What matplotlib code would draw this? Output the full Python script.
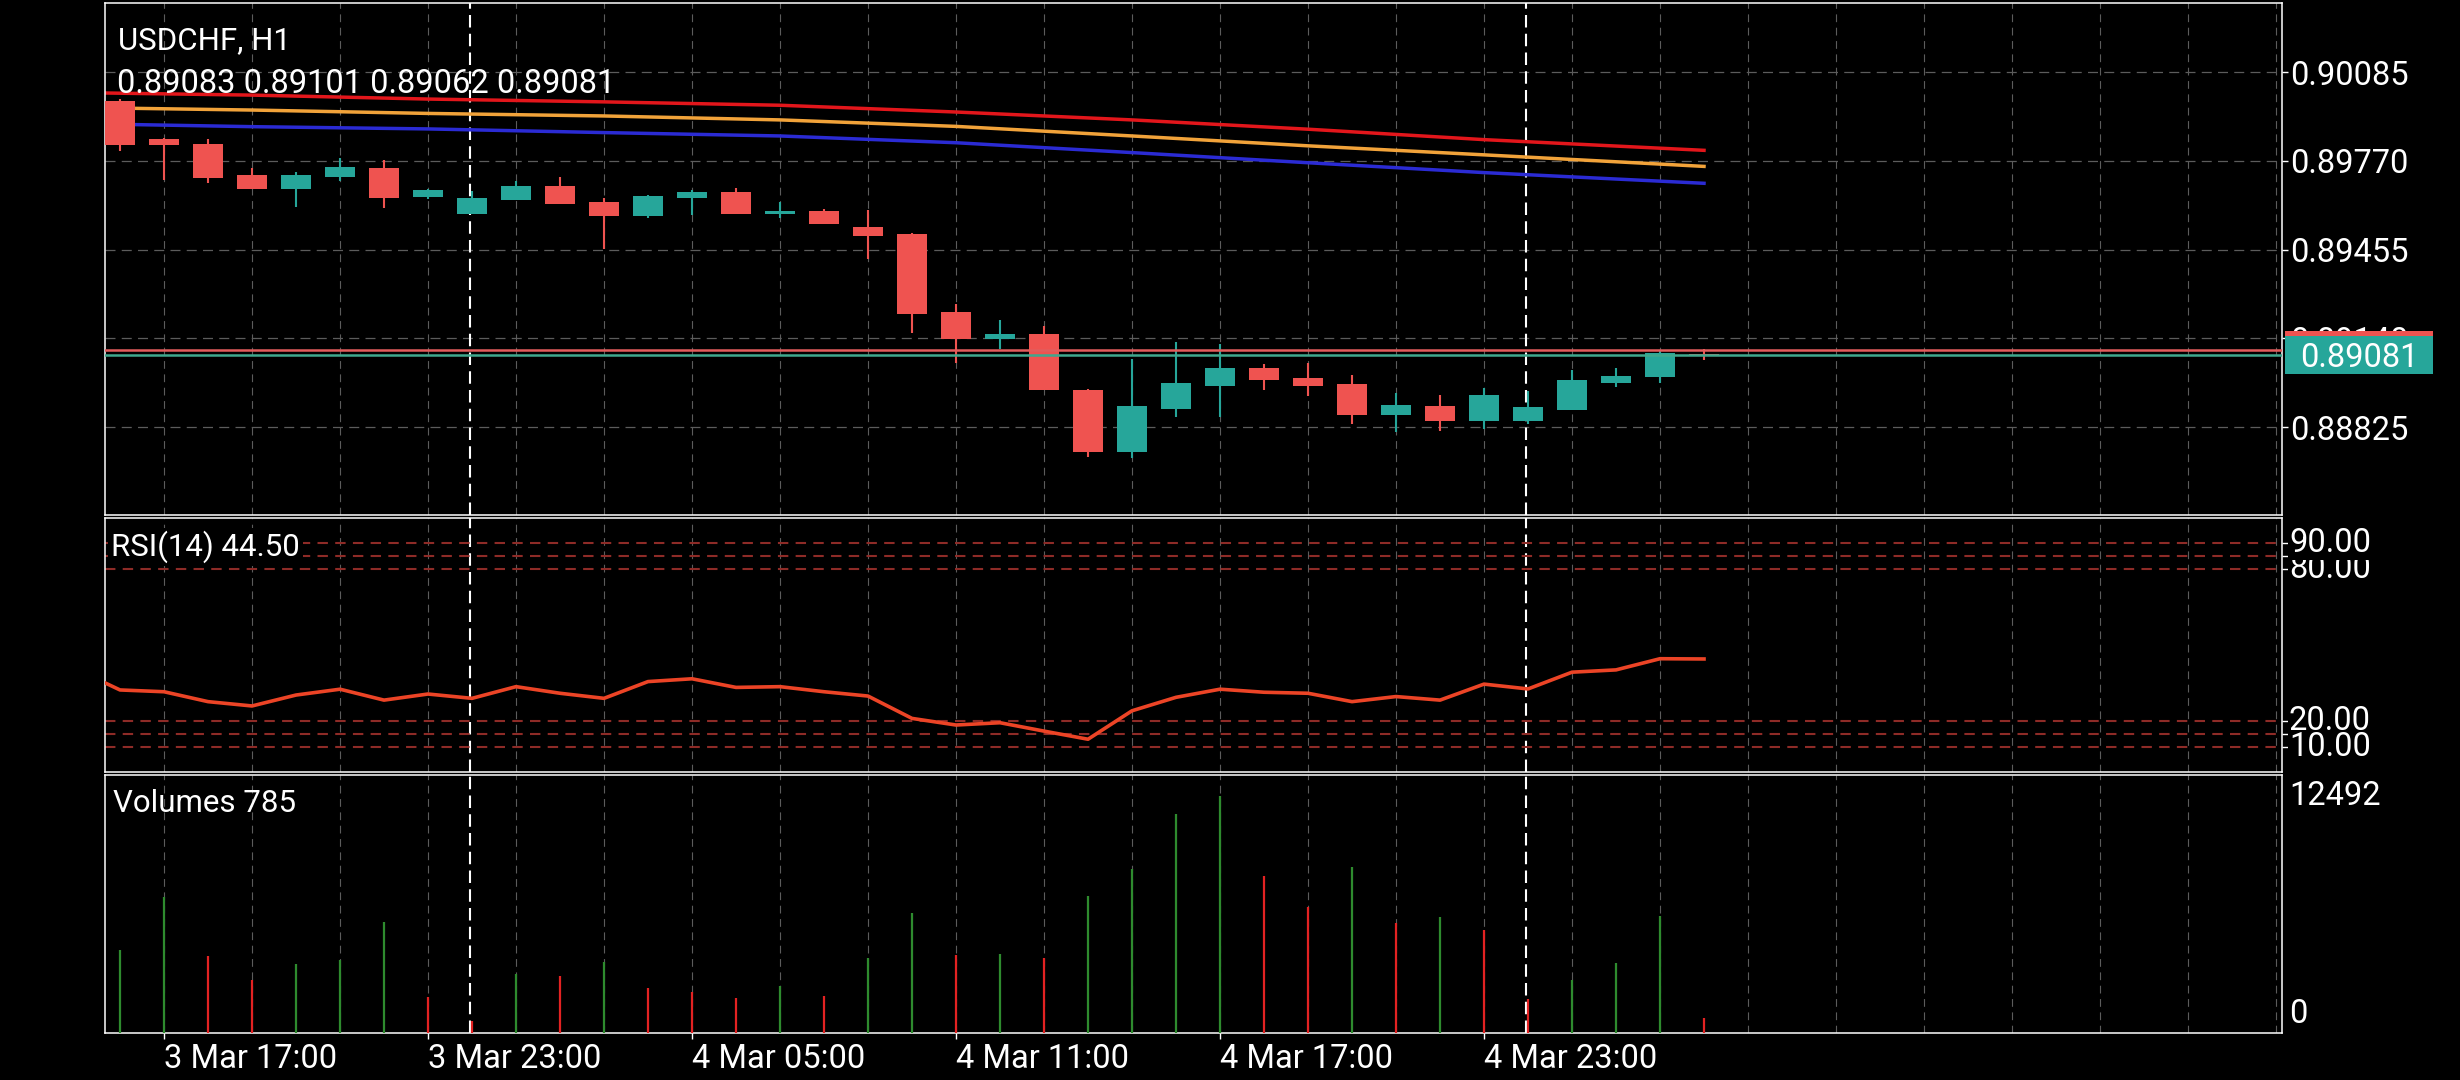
import matplotlib.pyplot as plt
import matplotlib.transforms as mtransforms
from matplotlib.patches import Rectangle
import numpy as np

plt.rcParams['font.family'] = ['Roboto', 'DejaVu Sans']

# ---- data (bar index 0 = 3 Mar 16:00, H1) ----
symbol = "USDCHF, H1"
time_labels = ["3 Mar 17:00", "3 Mar 23:00", "4 Mar 05:00", "4 Mar 11:00", "4 Mar 17:00", "4 Mar 23:00"]
label_bars = [1, 7, 13, 19, 25, 31]
day_breaks = [7.95, 31.95]

opens = [0.89982, 0.89847, 0.89830, 0.89718, 0.89671, 0.89713, 0.89744, 0.89642, 0.89582, 0.89632,
         0.89680, 0.89624, 0.89575, 0.89639, 0.89659, 0.89582, 0.89592, 0.89535, 0.89510, 0.89233,
         0.89139, 0.89155, 0.88956, 0.88737, 0.88890, 0.88972, 0.89035, 0.88999, 0.88978, 0.88869,
         0.88900, 0.88848, 0.88848, 0.88887, 0.88982, 0.89004, 0.89083]
highs = [0.89990, 0.89850, 0.89847, 0.89744, 0.89730, 0.89780, 0.89773, 0.89669, 0.89662, 0.89698,
         0.89713, 0.89638, 0.89648, 0.89666, 0.89673, 0.89624, 0.89599, 0.89595, 0.89512, 0.89262,
         0.89205, 0.89184, 0.88960, 0.89066, 0.89128, 0.89121, 0.89048, 0.89052, 0.89010, 0.88946,
         0.88939, 0.88964, 0.88954, 0.89029, 0.89036, 0.89094, 0.89101]
lows = [0.89806, 0.89702, 0.89692, 0.89668, 0.89607, 0.89699, 0.89603, 0.89633, 0.89580, 0.89630,
        0.89616, 0.89458, 0.89568, 0.89579, 0.89580, 0.89568, 0.89545, 0.89422, 0.89160, 0.89051,
        0.89101, 0.88955, 0.88720, 0.88716, 0.88861, 0.88861, 0.88958, 0.88935, 0.88837, 0.88808,
        0.88812, 0.88817, 0.88835, 0.88885, 0.88967, 0.88982, 0.89062]
closes = [0.89826, 0.89826, 0.89710, 0.89671, 0.89718, 0.89748, 0.89639, 0.89666, 0.89638, 0.89680,
          0.89618, 0.89575, 0.89645, 0.89659, 0.89582, 0.89592, 0.89547, 0.89504, 0.89227, 0.89139,
          0.89155, 0.88958, 0.88737, 0.88900, 0.88981, 0.89035, 0.88993, 0.88972, 0.88869, 0.88903,
          0.88848, 0.88939, 0.88896, 0.88992, 0.89006, 0.89088, 0.89081]
volumes = [4398, 7160, 4044, 2777, 3622, 3833, 5840, 1880, 612, 3131,
           3025, 3728, 2355, 2165, 1827, 2497, 1969, 3976, 6352, 4118,
           4150, 3939, 7212, 8659, 11579, 12492, 8268, 6653, 8744, 5787,
           6104, 5417, 1774, 2777, 3675, 6156, 785]
# RSI starts one bar left of the visible window
rsi_bars = list(range(-1, 37))
rsi = [40.5, 32.3, 31.6, 27.7, 26.0, 30.3, 32.6, 28.3, 30.7, 29.0,
       33.6, 31.0, 29.0, 35.6, 36.7, 33.3, 33.6, 31.6, 29.9, 21.1,
       18.5, 19.4, 16.1, 12.9, 24.1, 29.4, 32.6, 31.4, 31.0, 27.7,
       29.7, 28.3, 34.6, 32.7, 39.3, 40.2, 44.6, 44.5]
ma_bars = [-1, 3, 7, 11, 15, 19, 23, 27, 31, 36]
ma_red = [0.90012, 0.90003, 0.89989, 0.89979, 0.89967, 0.89943, 0.89915, 0.89882, 0.89845, 0.89807]
ma_orange = [0.89959, 0.89950, 0.89938, 0.89929, 0.89915, 0.89892, 0.89858, 0.89823, 0.89791, 0.89750]
ma_blue = [0.89902, 0.89891, 0.89883, 0.89870, 0.89858, 0.89834, 0.89799, 0.89763, 0.89728, 0.89690]

bid = 0.89081
ask = 0.89098
price_ticks = [0.90085, 0.89770, 0.89455, 0.89140, 0.88825]
rsi_levels = [90, 85, 80, 20, 15, 10]
rsi_labelled = [80, 90, 20, 10]
vol_top = 12492

UP = '#26a69a'
DOWN = '#ef5350'
GRID = '#5c5c5c'
FS = 22.5     # names
FN = 23.5     # numbers and dates

fig = plt.figure(figsize=(24.6, 10.8), dpi=100, facecolor='black')
W, H = 2460.0, 1080.0
L, R = 105, 2282


def add_panel(top, bottom):
    return fig.add_axes([L / W, 1 - bottom / H, (R - L) / W, (bottom - top) / H], facecolor='black')


ax = add_panel(3, 515.5)
ax_rsi = add_panel(518, 772)
ax_vol = add_panel(775, 1033)

n = len(opens)
x = np.arange(n)
xlim = (-0.341, 49.136)
odd_bars = np.arange(1, 50, 2)

for a in (ax, ax_rsi, ax_vol):
    a.set_xlim(*xlim)
    for s in a.spines.values():
        s.set_color('white')
        s.set_linewidth(1.1)
    a.yaxis.tick_right()
    a.tick_params(axis='y', colors='white', labelsize=FN, length=4, width=1, pad=2)
    a.tick_params(axis='x', colors='white', length=0)
    a.set_xticks([])
    for b in odd_bars:
        a.axvline(b, color=GRID, lw=0.8, ls=(0, (7, 5)), zorder=0.5)
    for b in day_breaks:
        a.axvline(b, color='white', lw=1.5, ls=(0, (6, 3)), zorder=1)

# ---- price panel ----
ax.set_ylim(0.885110, 0.903299)
ax.set_yticks(price_ticks)
ax.set_yticklabels([f"{p:.5f}" for p in price_ticks])
for p in price_ticks:
    ax.axhline(p, color=GRID, lw=0.9, ls=(0, (8, 5)), zorder=0.5)

ax.plot(ma_bars, ma_red, color='#e3161b', lw=2.5, zorder=2)
ax.plot(ma_bars, ma_orange, color='#f2a33a', lw=2.5, zorder=2)
ax.plot(ma_bars, ma_blue, color='#2b2bd4', lw=2.5, zorder=2)

colors = [UP if c >= o else DOWN for o, c in zip(opens, closes)]
ax.vlines(x, lows, highs, colors=colors, lw=1.5, zorder=3)
bottoms = [min(o, c) for o, c in zip(opens, closes)]
heights = [max(abs(c - o), 0.00004) for o, c in zip(opens, closes)]
ax.bar(x, heights, bottom=bottoms, width=0.68, color=colors, zorder=4)

ax.axhline(ask, color='#e35d5d', lw=1.8, zorder=5)
ax.axhline(bid, color='#3fa88e', lw=1.8, zorder=5)

blend = mtransforms.blended_transform_factory(ax.transAxes, ax.transData)
box_h = 0.001324
x0, x1 = 1.0014, 1.0694
ax.add_patch(Rectangle((x0, ask - box_h / 2), x1 - x0, box_h, transform=blend,
                       facecolor=DOWN, edgecolor='none', clip_on=False, zorder=10))
ax.add_patch(Rectangle((x0, bid - box_h / 2), x1 - x0, box_h, transform=blend,
                       facecolor=UP, edgecolor='none', clip_on=False, zorder=11))
ax.text((x0 + x1) / 2, bid, f"{closes[-1]:.5f}", transform=blend, color='white',
        fontsize=FN, ha='center', va='center_baseline', zorder=12, clip_on=False)

ax.annotate(symbol, xy=(0, 1), xycoords='axes fraction', xytext=(13, -46),
            textcoords='offset pixels', color='white', fontsize=FS, va='baseline', zorder=12)
ohlc_text = f"{opens[-1]:.5f} {highs[-1]:.5f} {lows[-1]:.5f} {closes[-1]:.5f}"
ax.annotate(ohlc_text, xy=(0, 1), xycoords='axes fraction', xytext=(12, -90),
            textcoords='offset pixels', color='white', fontsize=FN, va='baseline', zorder=12)

# ---- RSI panel ----
ax_rsi.set_ylim(0, 100)
ax_rsi.set_yticks(rsi_levels)
ax_rsi.set_yticklabels([''] * len(rsi_levels))
for lv in rsi_levels:
    ax_rsi.axhline(lv, color='#8e2b27', lw=1.5, ls=(0, (5, 3.5)), zorder=1)
ax_rsi.plot(rsi_bars, rsi, color='#ec4426', lw=2.6, zorder=3)
rblend = mtransforms.blended_transform_factory(ax_rsi.transAxes, ax_rsi.transData)
for k, lv in enumerate(rsi_labelled):
    ax_rsi.text(1.0032, lv, f"{lv:.2f}", transform=rblend, color='white', fontsize=FN,
                ha='left', va='center', clip_on=False, zorder=5 + k,
                bbox=dict(facecolor='black', edgecolor='none', pad=0.5))
ax_rsi.annotate(f"RSI(14) {rsi[-1]:.2f}", xy=(0, 1), xycoords='axes fraction', xytext=(6, -38),
                textcoords='offset pixels', color='white', fontsize=FS, va='baseline', zorder=6,
                bbox=dict(facecolor='black', edgecolor='none', pad=2))

# ---- volume panel ----
ax_vol.set_ylim(0, 13620)
vcolors = ['#2e8b2e' if i == 0 or volumes[i] >= volumes[i - 1] else '#e32222' for i in range(n)]
ax_vol.vlines(x, 0, volumes, colors=vcolors, lw=1.6, zorder=3)
ax_vol.set_yticks([])
vblend = mtransforms.blended_transform_factory(ax_vol.transAxes, ax_vol.transData)
ax_vol.text(1.0032, vol_top, str(vol_top), transform=vblend, color='white', fontsize=FN,
            ha='left', va='center', clip_on=False)
ax_vol.annotate("0", xy=(1, 0), xycoords='axes fraction', xytext=(7, 19),
                textcoords='offset pixels', color='white', fontsize=FN, va='center')
ax_vol.annotate(f"Volumes {volumes[-1]}", xy=(0, 1), xycoords='axes fraction', xytext=(8, -37),
                textcoords='offset pixels', color='white', fontsize=FS, va='baseline')

ax_vol.set_xticks(label_bars)
ax_vol.set_xticklabels(time_labels)
ax_vol.tick_params(axis='x', colors='white', labelsize=FN, length=4, width=1, pad=3)
for t in ax_vol.get_xticklabels():
    t.set_ha('left')

fig.savefig('out.png', dpi=100, facecolor='black')
